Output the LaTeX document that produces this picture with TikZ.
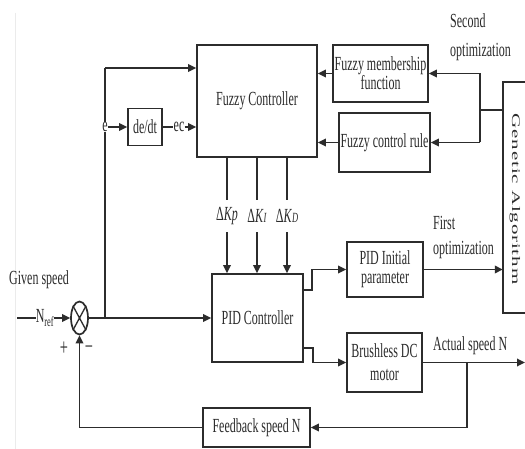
\documentclass[tikz,border=0pt]{standalone}
\usepackage{fontspec}
\usepackage{graphicx}
\setmainfont{Liberation Serif}[FakeStretch=0.6]
\newfontfamily\gafont{Liberation Serif}[LetterSpace=4]
\usetikzlibrary{arrows.meta,shapes.geometric}
\definecolor{ink}{HTML}{2C2C2C}
\begin{document}
\begin{tikzpicture}[x=1pt,y=-1pt,
  every node/.style={text=ink, font=\fontsize{20}{19}\selectfont},
  blk/.style={draw=ink, line width=1.7pt, rectangle, inner sep=0pt, align=center},
  ln/.style={draw=ink, line width=1.7pt},
  ar/.style={ln, -{Triangle[length=8pt,width=7.5pt]}},
  lbl/.style={inner sep=0pt}]
\useasboundingbox (0,0) rectangle (525,449);
\fill[white] (0,0) rectangle (525,449);
\draw[black!8, line width=0.8pt] (15,13) -- (15,449);

% blocks
\node[blk, minimum width=120pt, minimum height=112pt] (fc) at (257,101) {Fuzzy Controller};
\node[blk, minimum width=95pt, minimum height=57pt] (fm) at (380.5,73.5) {Fuzzy membership\\function};
\node[blk, minimum width=91pt, minimum height=59pt] (fr) at (384.5,142.5) {Fuzzy control rule};
\node[blk, minimum width=34pt, minimum height=37pt] (dedt) at (145,127) {de/dt};
\node[blk, minimum width=91pt, minimum height=88pt] (pid) at (257.5,318) {PID Controller};
\node[blk, minimum width=76pt, minimum height=55pt] (pi) at (385,269.5) {PID Initial\\parameter};
\node[blk, minimum width=75pt, minimum height=59pt, font=\fontsize{20}{23}\selectfont] (bm) at (384.5,362.5) {Brushless DC\\motor};
\node[blk, minimum width=107pt, minimum height=39pt] (fb) at (256.5,427.5) {Feedback speed N};
\node[draw=none, minimum width=44pt, minimum height=231pt, inner sep=0pt] (ga) at (525,197.5) {};
\draw[ln] (ga.north) -- (ga.north west) -- (ga.south west) -- (ga.south);
\node[lbl, rotate=-90] (gat) at (515,199) {\scalebox{1}[0.55]{\gafont\fontsize{21}{21}\selectfont Genetic Algorithm}};

% summing junction
\node[draw=ink, line width=1.7pt, ellipse, minimum width=17pt, minimum height=33pt, inner sep=0pt] (sum) at (79.5,318) {};
\draw[ink, line width=1.3pt] (sum.north west) -- (sum.south east) (sum.north east) -- (sum.south west);

% labels
\node[lbl] (elab) at (105,127) {e};
\node[lbl] (eclab) at (179,127) {ec};
\node[lbl, anchor=base west] (given) at (9,284) {Given speed};
\node[lbl] (nref) at (45,318) {N\textsubscript{ref}};
\node[lbl, font=\fontsize{24}{24}\selectfont] (plus) at (64,349) {+};
\node[lbl, font=\fontsize{24}{24}\selectfont] (minus) at (89,350) {−};
\node[lbl, anchor=west, align=left, font=\fontsize{20}{29}\selectfont] (second) at (450,37.4) {Second\\optimization};
\node[lbl, anchor=west, align=left, font=\fontsize{20}{25}\selectfont] (first) at (433,237.4) {First\\optimization};
\node[lbl, anchor=base west] (actual) at (433,350) {Actual speed N};
\node[lbl, minimum height=32pt] (kp) at (227,216) {Δ\textit{Kp}};
\node[lbl, minimum height=32pt] (ki) at (257,216) {Δ\textit{K}{\fontsize{14}{14}\selectfont\textit{I}}};
\node[lbl, minimum height=32pt] (kd) at (287,216) {Δ\textit{K}{\fontsize{14}{14}\selectfont\textit{D}}};

% coordinates
\coordinate (j) at (105,318);
\coordinate (jt) at (105,68);
\coordinate (r1) at (480,73.5);
\coordinate (r2) at (480,142.5);
\coordinate (rm) at (480,110);
\coordinate (pu) at (312,290);
\coordinate (pl) at (313,348);
\coordinate (br) at (467,362.5);
\coordinate (out) at (525,362.5);
\coordinate (in) at (17,318);

% connectors: error path
\draw[ln] (in) -- (nref.west);
\draw[ar] (nref.east) -- (sum.west);
\draw[ar] (sum.east) -- (pid.west);
\draw[ln] (j) -- (elab.south);
\draw[ln] (elab.north) -- (jt);
\draw[ar] (jt) -- (jt -| fc.west);
\draw[ar] (elab.east) -- (dedt.west);
\draw[ln] (dedt.east) -- (eclab.west);
\draw[ar] (eclab.east) -- (eclab.east -| fc.west);

% gains
\foreach \k in {kp,ki,kd} {
  \draw[ln] (\k |- fc.south) -- (\k.north);
  \draw[ar] (\k.south) -- (\k |- pid.north);
}

% fuzzy tuning
\draw[ar] (fm.west) -- (fm.west -| fc.east);
\draw[ar] (fr.west) -- (fr.west -| fc.east);
\draw[ar] (r1) -- (fm.east);
\draw[ar] (r2) -- (fr.east);
\draw[ln] (r1) -- (r2);
\draw[ln] (rm) -- (rm -| ga.west);

% PID outputs
\draw[ar] (pid.east |- pu) -- (pu) |- (pi.west);
\draw[ar] (pi.east) -- (pi.east -| ga.west);
\draw[ar] (pid.east |- pl) -- (pl) |- (bm.west);
\draw[ar] (bm.east) -- (out);
\draw[ar] (br) |- (fb.east);
\draw[ar] (fb.west) -| (sum.south);
\end{tikzpicture}
\end{document}
